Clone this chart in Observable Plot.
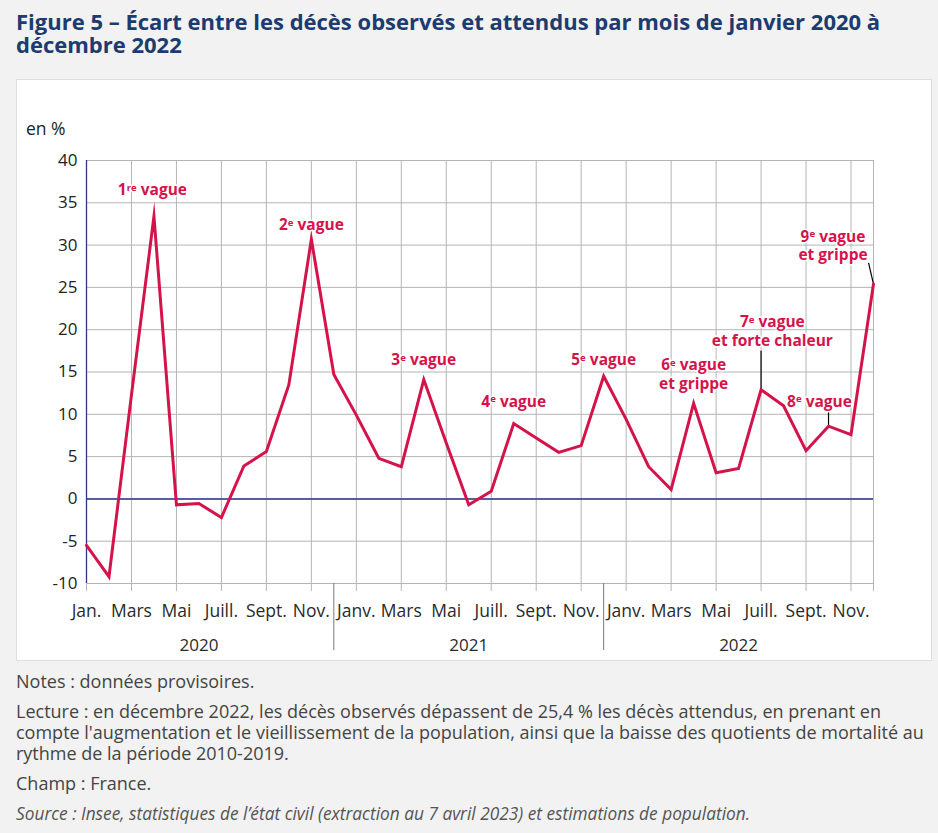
<!DOCTYPE html>
<html lang="fr">
<head>
<meta charset="utf-8">
<script src="https://cdn.jsdelivr.net/npm/d3@7"></script>
<script src="https://cdn.jsdelivr.net/npm/@observablehq/plot@0.6"></script>
<style>
  html, body { margin: 0; padding: 0; }
  body { width: 938px; height: 833px; background: #f2f2f2; position: relative; overflow: hidden; font-family: "Open Sans", sans-serif; }
  #title { position: absolute; left: 16px; top: 10px; color: #1b3b71; font-weight: 700; font-size: 22px; line-height: 23px; letter-spacing: 0; white-space: nowrap; }
  #panel { position: absolute; left: 16px; top: 79px; width: 914px; height: 580px; background: #fff; border: 1px solid #dedede; }
  #panel svg { position: absolute; left: 0; top: 0; }
  #unit { position: absolute; left: 9px; top: 36px; font-size: 17.5px; color: #222; }
  #notes { position: absolute; left: 16px; top: 671px; color: #444; font-size: 18px; line-height: 21px; white-space: nowrap; }
  #notes p { margin: 0 0 9px 0; }
  #notes .src { font-style: italic; color: #555; font-size: 17.3px; }
</style>
</head>
<body>
<div id="title">Figure 5 – Écart entre les décès observés et attendus par mois de janvier 2020 à<br>décembre 2022</div>
<div id="panel"><div id="unit">en %</div></div>
<div id="notes">
  <p>Notes : données provisoires.</p>
  <p>Lecture : en décembre 2022, les décès observés dépassent de 25,4 % les décès attendus, en prenant en<br>compte l'augmentation et le vieillissement de la population, ainsi que la baisse des quotients de mortalité au<br>rythme de la période 2010-2019.</p>
  <p>Champ : France.</p>
  <p class="src">Source : Insee, statistiques de l’état civil (extraction au 7 avril 2023) et estimations de population.</p>
</div>
<script>
// ---- data ----
const years = ["2020", "2021", "2022"];
const monthLabels2020 = ["Jan.", "Mars", "Mai", "Juill.", "Sept.", "Nov."];
const monthLabelsOther = ["Janv.", "Mars", "Mai", "Juill.", "Sept.", "Nov."];
// écart en % (janv. 2020 -> déc. 2022), one value per month
const ecart = [
  -5.5, -9.2, 12.3, 33.4, -0.7, -0.55, -2.2, 3.9, 5.6, 13.5, 30.7, 14.7,
  9.9, 4.8, 3.8, 14.1, 6.6, -0.7, 0.9, 8.9, 7.2, 5.5, 6.3, 14.5,
  9.4, 3.8, 1.1, 11.3, 3.1, 3.6, 12.9, 11.0, 5.7, 8.6, 7.6, 25.4
];
const yTicks = [-10, -5, 0, 5, 10, 15, 20, 25, 30, 35, 40];
// annotations: label number, superscript, rest of line(s), month index, y value
const annNum = ["1", "2", "3", "4", "5", "6", "7", "8", "9"];
const annSup = ["re", "e", "e", "e", "e", "e", "e", "e", "e"];
const annText = ["vague", "vague", "vague", "vague", "vague", "vague\net grippe", "vague\net forte chaleur", "vague", "vague\net grippe"];
const annX = [2.93, 10.0, 15.0, 19.0, 23.0, 27.0, 30.5, 32.6, 33.2];
const annY = [36.6, 32.5, 16.5, 11.6, 16.5, 14.8, 19.9, 11.6, 30.0];
// leader lines (month index / value)
const leadX1 = [30, 33, 34.78];
const leadY1 = [17.5, 10.3, 27.9];
const leadX2 = [30, 33, 35];
const leadY2 = [12.9, 8.6, 25.4];

// ---- derived tables ----
const series = ecart.map((v, i) => ({i, v}));
const tickIdx = d3.range(0, 36, 2);
const tickLabel = i => (i < 12 ? monthLabels2020 : monthLabelsOther)[(i % 12) / 2];
const gridIdx = tickIdx.concat([35]);
const yearData = years.map((y, k) => ({y, i: k * 12 + 5}));
const anns = annNum.map((n, k) => ({label: `${n}^${annSup[k]} ${annText[k]}`, x: annX[k], y: annY[k]}));
const leaders = leadX1.map((x, k) => ({x1: x, y1: leadY1[k], x2: leadX2[k], y2: leadY2[k]}));

const red = "#d5134b";
const navy = "#2e368a";
const grid = "#b5b5b5";

const chart = Plot.plot({
  width: 914,
  height: 580,
  marginLeft: 69,
  marginRight: 58,
  marginTop: 80,
  marginBottom: 77,
  style: {fontFamily: "'Open Sans', sans-serif", background: "transparent", overflow: "visible"},
  x: {domain: [0, 35], axis: null},
  y: {domain: [-10, 40], axis: null},
  marks: [
    Plot.ruleY(yTicks, {stroke: grid, strokeWidth: 1}),
    Plot.ruleX(gridIdx, {stroke: grid, strokeWidth: 1, insetBottom: -8}),
    Plot.ruleX([11, 23], {y1: -10, y2: -10, insetBottom: -67, stroke: "#7a7a7a", strokeWidth: 1}),
    Plot.ruleX([0], {stroke: navy, strokeWidth: 1.3}),
    Plot.ruleY([0], {stroke: navy, strokeWidth: 1.5}),
    Plot.axisY(yTicks, {tickSize: 0, tickPadding: 9, fontSize: 17, fill: "#222",
      tickFormat: d => (d < 0 ? "-" + Math.abs(d) : String(d))}),
    Plot.axisX(tickIdx, {tickSize: 0, tickPadding: 21, fontSize: 17.5, fill: "#2a2a2a", tickFormat: tickLabel}),
    Plot.text(yearData, {x: "i", y: () => -10, text: "y", dy: 62, fontSize: 17, fill: "#2a2a2a"}),
    Plot.link(leaders, {x1: "x1", y1: "y1", x2: "x2", y2: "y2", stroke: "#000", strokeWidth: 1.2}),
    Plot.line(series, {x: "i", y: "v", stroke: red, strokeWidth: 3, strokeLinejoin: "miter", strokeMiterlimit: 10}),
    Plot.text(anns, {x: "x", y: "y", text: "label", fill: red, fontSize: 15.5, fontWeight: 700,
      lineHeight: 1.2, lineAnchor: "middle", stroke: "white", strokeWidth: 3, paintOrder: "stroke"})
  ]
});

// superscripts for ordinal labels ("1^re" -> 1 + raised "re")
d3.select(chart).selectAll('g[aria-label="text"] text, g[aria-label="text"] tspan').each(function () {
  if (this.childElementCount > 0) return;
  const t = this.textContent;
  const m = t.match(/^(\d)\^(re|e) (.*)$/);
  if (!m) return;
  this.textContent = "";
  this.appendChild(document.createTextNode(m[1]));
  const ns = "http://www.w3.org/2000/svg";
  const sup = document.createElementNS(ns, "tspan");
  sup.setAttribute("font-size", "0.62em");
  sup.setAttribute("dy", "-0.45em");
  sup.textContent = m[2];
  this.appendChild(sup);
  const rest = document.createElementNS(ns, "tspan");
  rest.setAttribute("dy", "0.279em");
  rest.textContent = "\u00a0" + m[3];
  this.appendChild(rest);
});

document.getElementById("panel").appendChild(chart);
</script>
</body>
</html>
